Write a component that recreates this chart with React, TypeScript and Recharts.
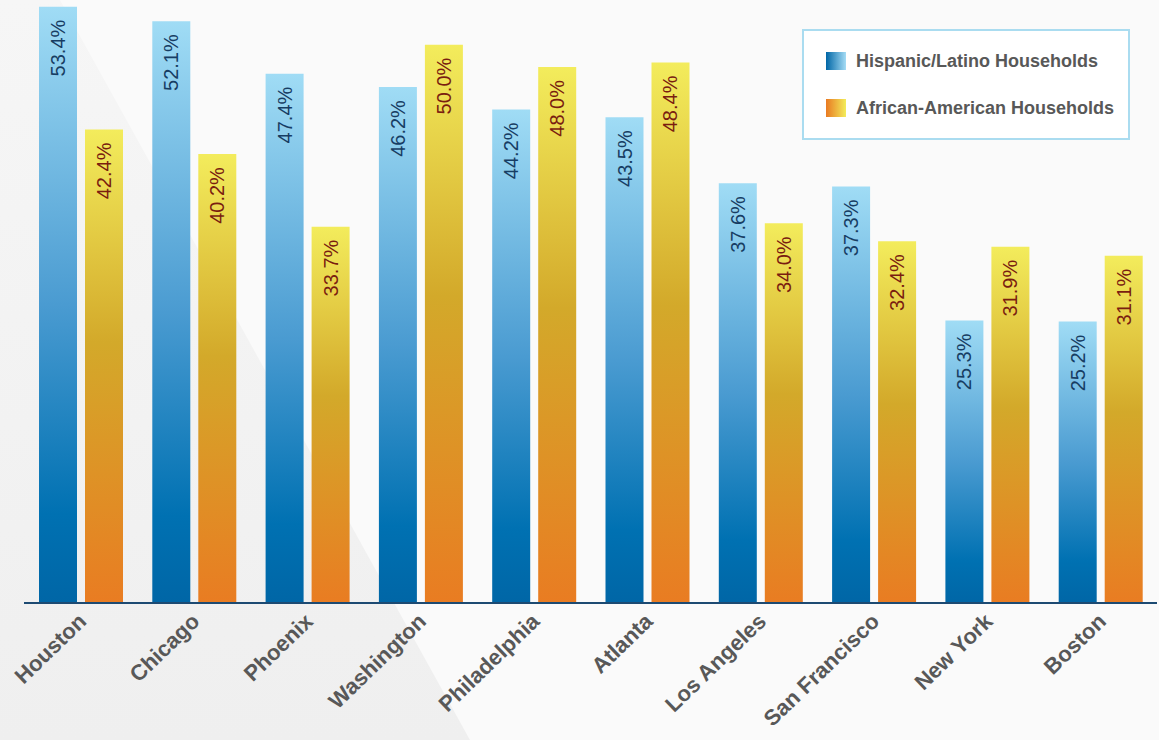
import React from "react";
import { BarChart, Bar, XAxis, YAxis, LabelList } from "recharts";

const cities = [
  "Houston",
  "Chicago",
  "Phoenix",
  "Washington",
  "Philadelphia",
  "Atlanta",
  "Los Angeles",
  "San Francisco",
  "New York",
  "Boston",
];
const hispanic = [53.4, 52.1, 47.4, 46.2, 44.2, 43.5, 37.6, 37.3, 25.3, 25.2];
const african = [42.4, 40.2, 33.7, 50.0, 48.0, 48.4, 34.0, 32.4, 31.9, 31.1];
const seriesNames = ["Hispanic/Latino Households", "African-American Households"];

const data = cities.map((city, i) => ({
  city,
  hispanic: hispanic[i],
  african: african[i],
}));

const CityTick = (props: any) => {
  const { x, y, payload } = props;
  return (
    <text
      x={x + 7}
      y={y + 12}
      transform={`rotate(-44, ${x + 7}, ${y + 12})`}
      textAnchor="end"
      fill="#585858"
      fontFamily="'Liberation Sans', Arial, sans-serif"
      fontWeight="bold"
      fontSize={22}
    >
      {payload.value}
    </text>
  );
};

const makeLabel = (color: string) => (props: any) => {
  const { x, y, width, value } = props;
  const cx = x + width / 2;
  const cy = y + 13;
  return (
    <text
      x={cx}
      y={cy}
      transform={`rotate(-90, ${cx}, ${cy})`}
      textAnchor="end"
      dominantBaseline="central"
      fill={color}
      fontFamily="'Liberation Sans', Arial, sans-serif"
      fontSize={20}
    >
      {`${Number(value).toFixed(1)}%`}
    </text>
  );
};

// legend drawn as a plain box so it doesn't eat into the plot area
const BoxLegend = () => {
  const swatches = [
    "linear-gradient(to right, #0066a6, #a5dcf5)",
    "linear-gradient(to right, #e97a22, #f3ec5a)",
  ];
  return (
    <div
      style={{
        position: "absolute",
        left: 802,
        top: 29,
        width: 324,
        height: 105,
        border: "2px solid #aadcf0",
        background: "#ffffff",
        paddingTop: 2,
      }}
    >
      {seriesNames.map((name, i) => (
        <div
          key={i}
          style={{
            display: "flex",
            alignItems: "center",
            marginLeft: 22,
            marginTop: i === 0 ? 19 : 29,
            height: 18,
          }}
        >
          <span style={{ width: 20, height: 18, background: swatches[i], display: "inline-block" }} />
          <span
            style={{
              marginLeft: 10,
              fontFamily: "'Liberation Sans', Arial, sans-serif",
              fontWeight: "bold",
              fontSize: 18,
              color: "#585858",
              whiteSpace: "nowrap",
            }}
          >
            {name}
          </span>
        </div>
      ))}
    </div>
  );
};

export default function App() {
  return (
    <div style={{ position: "absolute", left: 0, top: 0, width: 1159, height: 740, overflow: "hidden" }}>
      <svg width={1159} height={740} style={{ position: "absolute", left: 0, top: 0 }}>
        <defs>
          <linearGradient id="bgLeft" x1="0" y1="0" x2="0" y2="1">
            <stop offset="0" stopColor="#f6f6f6" />
            <stop offset="1" stopColor="#efefef" />
          </linearGradient>
        </defs>
        <rect x={0} y={0} width={1159} height={740} fill="#fafafa" />
        <polygon points="0,0 60,0 470,740 0,740" fill="url(#bgLeft)" />
      </svg>
      <div style={{ position: "absolute", left: 0, top: 0 }}>
        <BarChart
          width={1159}
          height={740}
          data={data}
          margin={{ top: 0, right: 2, left: 24, bottom: 0 }}
          barSize={38}
          barGap={8}
        >
          <defs>
            <linearGradient id="blueGrad" x1="0" y1="0" x2="0" y2="1">
              <stop offset="0" stopColor="#a0dcf5" />
              <stop offset="0.5" stopColor="#4a9bd1" />
              <stop offset="0.85" stopColor="#0071b2" />
              <stop offset="1" stopColor="#0066a6" />
            </linearGradient>
            <linearGradient id="orangeGrad" x1="0" y1="0" x2="0" y2="1">
              <stop offset="0" stopColor="#f3ec5c" />
              <stop offset="0.45" stopColor="#d3a92a" />
              <stop offset="1" stopColor="#e97c22" />
            </linearGradient>
          </defs>
          <XAxis
            dataKey="city"
            height={137}
            interval={0}
            tick={<CityTick />}
            tickLine={false}
            axisLine={{ stroke: "#1d4a72", strokeWidth: 2 }}
          />
          <YAxis hide domain={[0, 54]} />
          <Bar dataKey="hispanic" name={seriesNames[0]} fill="url(#blueGrad)" isAnimationActive={false}>
            <LabelList dataKey="hispanic" content={makeLabel("#173d63")} />
          </Bar>
          <Bar dataKey="african" name={seriesNames[1]} fill="url(#orangeGrad)" isAnimationActive={false}>
            <LabelList dataKey="african" content={makeLabel("#7a1d10")} />
          </Bar>
        </BarChart>
      </div>
      <BoxLegend />
    </div>
  );
}
